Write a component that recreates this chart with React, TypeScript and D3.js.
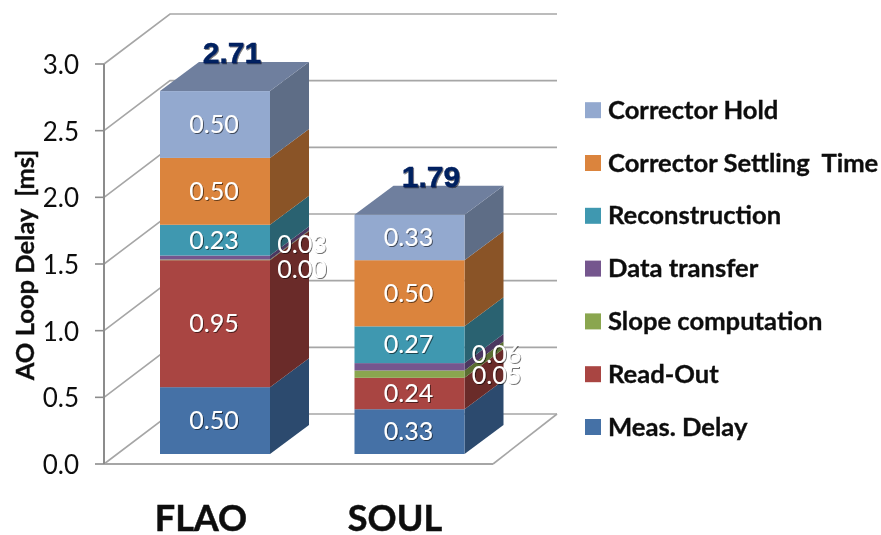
import React from "react";
import * as d3 from "d3";

const categories = ["FLAO", "SOUL"];
const totals = ["2.71", "1.79"];
const seriesNames = ["Meas. Delay", "Read-Out", "Slope computation", "Data transfer", "Reconstruction", "Corrector Settling  Time", "Corrector Hold"];
const flaoValues = [0.5, 0.95, 0.005, 0.03, 0.23, 0.5, 0.5];
const soulValues = [0.335, 0.235, 0.055, 0.055, 0.275, 0.495, 0.34];
const flaoLabels = ["0.50", "0.95", "0.00", "0.03", "0.23", "0.50", "0.50"];
const soulLabels = ["0.33", "0.24", "0.05", "0.06", "0.27", "0.50", "0.33"];
const frontColors = ["#4571a6", "#a94542", "#8aa64f", "#75568e", "#3f98b0", "#db843d", "#93a9cf"];
const sideColors = ["#2c4a6e", "#6a2b29", "#5a6e32", "#4b3860", "#2a6271", "#8a5427", "#5e6d86"];
const topColor = "#6f7f9e";
const tickValues = [0, 0.5, 1, 1.5, 2, 2.5, 3];

const axisX = 104;
const wall = { dx: 66, dy: -50 };
const barDepth = { dx: 39, dy: -29 };
const floorRight = 493;
const gridColor = "#a6a6a6";
const axisColor = "#8c8c8c";
const sansFont = "Lato, 'Open Sans', sans-serif";

const yAxis = d3.scaleLinear().domain([0, 3]).range([464, 64]);
const yBar = d3.scaleLinear().domain([0, 3]).range([454, 53]);
const xBar = d3.scaleBand().domain(categories).range([160, 464.5]).paddingInner(0.4344);
const labels: Record<string, string[]> = { FLAO: flaoLabels, SOUL: soulLabels };
const cumulative: Record<string, number[]> = {
  FLAO: [0, ...Array.from(d3.cumsum(flaoValues))],
  SOUL: [0, ...Array.from(d3.cumsum(soulValues))],
};
// vertical shift of the tiny labels that spill past the side face
const sideLabelShift: Record<string, Record<number, number>> = {
  FLAO: { 2: 10, 3: -13 },
  SOUL: { 2: 1, 3: -12 },
};
const totalOffset: Record<string, number> = { FLAO: 72, SOUL: 76.5 };

const legendY = (i: number) => 427 - i * 52.8;

export default function App() {
  return (
    <svg width={881} height={535} style={{ position: "absolute", left: 0, top: 0, background: "#fff" }}>
      <defs>
        <filter id="soft" x="-10%" y="-20%" width="120%" height="140%">
          <feGaussianBlur stdDeviation="0.55" />
        </filter>
        <filter id="shadow" x="-20%" y="-30%" width="140%" height="160%">
          <feDropShadow dx="1" dy="1" stdDeviation="0.7" floodColor="#000" floodOpacity="0.55" />
          <feGaussianBlur stdDeviation="0.35" />
        </filter>
      </defs>

      {/* walls and floor */}
      <g fill="none" stroke={gridColor} strokeWidth={1.6}>
        {tickValues.map((t) => (
          <polyline
            key={t}
            points={`${axisX},${yAxis(t)} ${axisX + wall.dx},${yAxis(t) + wall.dy} 557,${yAxis(t) + wall.dy}`}
          />
        ))}
        <line x1={axisX} y1={yAxis(0)} x2={floorRight} y2={yAxis(0)} strokeWidth={2} />
        <line x1={floorRight} y1={yAxis(0)} x2={floorRight + wall.dx - 2} y2={yAxis(0) + wall.dy} />
      </g>
      <g stroke={axisColor} strokeWidth={2}>
        <line x1={axisX} y1={yAxis(3)} x2={axisX} y2={yAxis(0)} />
        {tickValues.map((t) => (
          <line key={t} x1={axisX - 9} x2={axisX} y1={yAxis(t)} y2={yAxis(t)} strokeWidth={1.6} />
        ))}
      </g>
      <g fontFamily={sansFont} fontSize={26} fill="#111" textAnchor="end" filter="url(#soft)">
        {tickValues.map((t) => (
          <text key={t} x={79} y={yAxis(t) + 10}>
            {t.toFixed(1)}
          </text>
        ))}
      </g>
      <text
        transform="translate(34,265) rotate(-90)"
        textAnchor="middle"
        fontFamily={sansFont}
        fontWeight={700}
        fontSize={25.5}
        fill="#111"
        stroke="#111"
        strokeWidth={0.3}
        filter="url(#soft)"
        style={{ whiteSpace: "pre" }}
      >
        AO Loop Delay  [ms]
      </text>

      {/* bars */}
      {categories.map((c, ci) => {
        const x0 = xBar(c)!;
        const x1 = x0 + xBar.bandwidth();
        const cum = cumulative[c];
        const top = yBar(cum[cum.length - 1]);
        return (
          <g key={c}>
            {seriesNames.map((_, si) => {
              const yb = yBar(cum[si]);
              const yt = yBar(cum[si + 1]);
              return (
                <g key={si}>
                  <polygon
                    points={`${x1},${yb} ${x1 + barDepth.dx},${yb + barDepth.dy} ${x1 + barDepth.dx},${yt + barDepth.dy} ${x1},${yt}`}
                    fill={sideColors[si]}
                  />
                  <rect x={x0} y={yt} width={x1 - x0} height={yb - yt} fill={frontColors[si]} />
                </g>
              );
            })}
            <polygon
              points={`${x0},${top} ${x1},${top} ${x1 + barDepth.dx},${top + barDepth.dy} ${x0 + barDepth.dx},${top + barDepth.dy}`}
              fill={topColor}
            />
            <text
              x={x0 + totalOffset[c]}
              y={top - 28}
              textAnchor="middle"
              fontFamily="'Liberation Sans', Arial, sans-serif"
              fontWeight={700}
              fontSize={30}
              fill="#002060"
              stroke="#002060"
              strokeWidth={0.4}
              filter="url(#shadow)"
            >
              {totals[ci]}
            </text>
            {seriesNames.map((_, si) => {
              const v = cum[si + 1] - cum[si];
              const cy = yBar(cum[si] + v / 2);
              const small = v < 0.1;
              const tx = small ? x1 + 32 : (x0 + x1) / 2 - 1;
              const ty = small ? cy + sideLabelShift[c][si] : cy;
              return (
                <text
                  key={si}
                  x={tx}
                  y={ty + 8.5}
                  textAnchor="middle"
                  fontFamily={sansFont}
                  fontSize={25}
                  fill="#fff"
                  filter="url(#shadow)"
                >
                  {labels[c][si]}
                </text>
              );
            })}
          </g>
        );
      })}

      {/* category labels */}
      <g fontFamily={sansFont} fontWeight={700} fontSize={36} fill="#111" stroke="#111" strokeWidth={0.5} textAnchor="middle" filter="url(#soft)">
        <text x={201} y={531}>{categories[0]}</text>
        <text x={395} y={531}>{categories[1]}</text>
      </g>

      {/* legend */}
      {seriesNames.map((name, i) => (
        <g key={name}>
          <rect x={585} y={legendY(i) - 8} width={16} height={16} fill={frontColors[i]} />
          <text
            x={608}
            y={legendY(i) + 8.5}
            fontFamily={sansFont}
            fontWeight={700}
            fontSize={25.6}
            fill="#111"
            stroke="#111"
            strokeWidth={0.35}
            filter="url(#soft)"
            style={{ whiteSpace: "pre" }}
          >
            {name}
          </text>
        </g>
      ))}
    </svg>
  );
}
